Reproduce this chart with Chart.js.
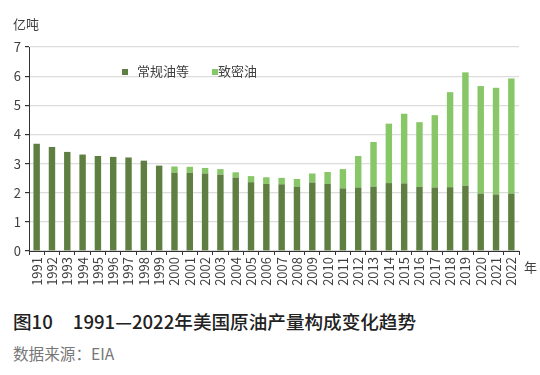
<!DOCTYPE html>
<html>
<head>
<meta charset="utf-8">
<script src="https://cdn.jsdelivr.net/npm/chart.js@4.4.0/dist/chart.umd.min.js"></script>
<style>
  body { margin: 0; background: #fff; font-family: "Noto Sans CJK SC", "Noto Sans", sans-serif; }
  #wrap { position: relative; width: 540px; height: 375px; }
  #chart { position: absolute; left: 0; top: 0; }
  #title { position: absolute; left: 13px; top: 307px; font-size: 18.6px; font-weight: 500; color: #222; white-space: pre; }
  #title span { margin-left: 20px; }
  #source { position: absolute; left: 13px; top: 342px; font-size: 15.6px; color: #777; }
</style>
</head>
<body>
<div id="wrap">
  <canvas id="chart" width="540" height="300"></canvas>
  <div id="title">图10<span>1991—2022年美国原油产量构成变化趋势</span></div>
  <div id="source">数据来源：EIA</div>
</div>
<script>
// 年份
const years = ['1991','1992','1993','1994','1995','1996','1997','1998','1999','2000',
  '2001','2002','2003','2004','2005','2006','2007','2008','2009','2010',
  '2011','2012','2013','2014','2015','2016','2017','2018','2019','2020','2021','2022'];

// 常规油等 (亿吨)
const conventional = [3.68, 3.57, 3.40, 3.31, 3.26, 3.23, 3.21, 3.10, 2.93, 2.69,
  2.68, 2.66, 2.62, 2.52, 2.36, 2.30, 2.29, 2.21, 2.35, 2.30,
  2.15, 2.18, 2.21, 2.33, 2.32, 2.20, 2.18, 2.19, 2.24, 1.97, 1.94, 1.97];

// 致密油 (亿吨)
const tightOil = [0, 0, 0, 0, 0, 0, 0, 0, 0, 0.21,
  0.21, 0.19, 0.19, 0.18, 0.21, 0.23, 0.22, 0.26, 0.31, 0.41,
  0.66, 1.08, 1.53, 2.04, 2.39, 2.22, 2.48, 3.26, 3.89, 3.69, 3.66, 3.95];

const seriesNames = ['常规油等', '致密油'];
const yTicks = [0, 1, 2, 3, 4, 5, 6, 7];

const darkGreen = '#5f7f42';
const lightGreen = '#88c767';
const fontFamily = '"Noto Sans CJK SC", "Noto Sans", sans-serif';

// 图例和单位文字
const extraText = {
  id: 'extraText',
  afterDraw(chart) {
    const c = chart.ctx;
    c.save();
    c.font = '13px ' + fontFamily;
    c.fillStyle = '#404040';
    c.textBaseline = 'middle';
    c.textAlign = 'left';
    c.fillText('亿吨', 13, 24);
    c.fillText('年', 524, 267);
    // legend
    const colors = [darkGreen, lightGreen];
    const sq = [122, 212];
    const tx = [137, 218];
    for (let i = 0; i < 2; i++) {
      c.fillStyle = colors[i];
      c.fillRect(sq[i], 69, 6, 6);
      c.fillStyle = '#404040';
      c.fillText(seriesNames[i], tx[i], 71);
    }
    c.restore();
  }
};

const ctx = document.getElementById('chart').getContext('2d');
const myChart = new Chart(ctx, {
  type: 'bar',
  data: {
    labels: years,
    datasets: [
      { label: seriesNames[0], data: conventional, backgroundColor: darkGreen, borderWidth: 0 },
      { label: seriesNames[1], data: tightOil, backgroundColor: lightGreen, borderWidth: 0 }
    ]
  },
  options: {
    responsive: false,
    animation: false,
    layout: { padding: { top: 47, right: 21, left: 0, bottom: 0 } },
    plugins: { legend: { display: false }, tooltip: { enabled: false } },
    datasets: { bar: { categoryPercentage: 1, barPercentage: 0.42 } },
    scales: {
      x: {
        stacked: true,
        grid: { display: true, drawOnChartArea: false, tickLength: 4, tickColor: '#333', offset: true },
        border: { color: '#333', width: 1 },
        ticks: { maxRotation: 90, minRotation: 90, autoSkip: false, padding: 2,
          color: '#404040', font: { size: 13, family: fontFamily } },
        afterFit(scale) { scale.height = 49; }
      },
      y: {
        stacked: true,
        min: 0,
        max: 7,
        afterBuildTicks(scale) { scale.ticks = yTicks.map(v => ({ value: v })); },
        grid: { color: '#dcdcdc', lineWidth: 1.2, tickLength: 4, tickColor: '#333' },
        border: { color: '#333', width: 1 },
        ticks: { padding: 4, color: '#404040', font: { size: 13, family: fontFamily } },
        afterFit(scale) { scale.width = 29; }
      }
    }
  },
  plugins: [extraText]
});
</script>
</body>
</html>
